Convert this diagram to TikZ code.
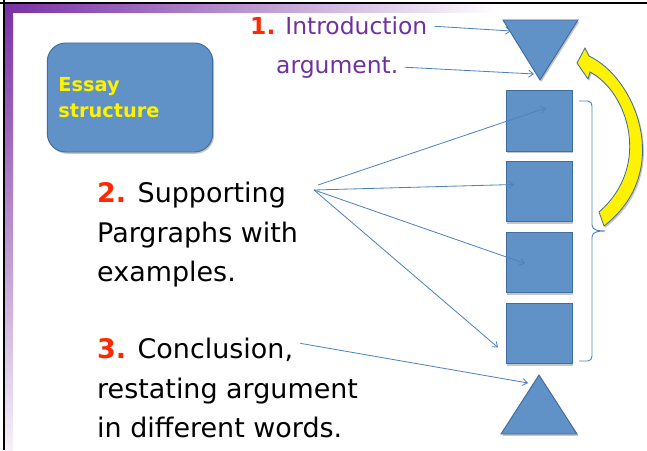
\documentclass[tikz,border=0pt]{standalone}
\usepackage{fontspec}
\setmainfont{DejaVu Sans}
\usetikzlibrary{arrows.meta,shadows,calc}
\definecolor{boxblue}{RGB}{96,146,199}
\definecolor{edgeblue}{RGB}{64,108,158}
\definecolor{lineblue}{RGB}{79,129,189}
\definecolor{numred}{RGB}{255,40,0}
\definecolor{intropurple}{RGB}{112,48,160}
\definecolor{bandpurple}{RGB}{122,48,166}

\tikzset{
  block/.style={draw=edgeblue, fill=boxblue, line width=0.8pt,
    drop shadow={shadow xshift=1.2pt, shadow yshift=-1.5pt, opacity=0.45}},
  pointer/.style={draw=lineblue, line width=0.7pt, -{Straight Barb[length=4pt,width=6pt]}},
  bigtext/.style={font=\fontsize{23}{33}\selectfont, anchor=base west, inner sep=0pt},
  introtext/.style={font=\fontsize{20}{24}\selectfont, text=intropurple, anchor=base west, inner sep=0pt},
}

\begin{document}
\begin{tikzpicture}[x=0.03cm, y=-0.03cm]
    \useasboundingbox (0,0) rectangle (647,450);
    % Slide frame
    \shade[top color=bandpurple, bottom color=bandpurple!7] (5,4) rectangle (13,450);
    \shade[left color=bandpurple, right color=white] (5,4) rectangle (500,13);
    \draw[line width=1.7pt] (0,3) -- (647,3);
    \draw[line width=1.7pt] (4,0) -- (4,450);

    % Title box
    \node[block, rounded corners=0.55cm, minimum height=3.27cm, text width=4.3cm,
          inner xsep=0.33cm, align=left, text=yellow,
          font=\bfseries\fontsize{16.5}{22}\selectfont] (essay) at (130,97.5) {Essay\\structure};

    % Introduction and conclusion triangles
    \draw[block] (503,20) -- (578,20) -- (540,80) -- cycle;
    \draw[block] (539,375) -- (577,434) -- (501,434) -- cycle;

    % Paragraph squares
    \foreach \n/\y in {1/121, 2/191.5, 3/262.5, 4/333.5} {
        \node[block, minimum width=1.98cm, minimum height=1.82cm] (sq\n) at (539,\y) {};
    }

    % Bracket round the paragraphs
    \draw[lineblue, line width=0.8pt] (579,101) -- (588,101) to[out=0,in=90] (592,106)
        -- (592,225) to[out=-90,in=180] (605,231) to[out=180,in=90] (592,237)
        -- (592,356) to[out=-90,in=0] (588,361) -- (579,361);

    % Curved return arrow
    \filldraw[fill=yellow, draw=edgeblue, line width=0.7pt,
              drop shadow={shadow xshift=1.2pt, shadow yshift=-1.5pt, opacity=0.45}]
        (577,63) -- (585,48) -- (589,56)
        .. controls (636,78) and (674,172) .. (604,226)
        -- (599,212)
        .. controls (652,166) and (628,92) .. (590,72)
        -- (588,79) -- cycle;

    % Texts
    \node[introtext] (intro) at (250,35) {\textcolor{numred}{\textbf{1.}} Introduction};
    \node[introtext] (arg) at (276,73) {argument.};
    \node[bigtext] (sup1) at (97,202) {\textcolor{numred}{\textbf{2.}} Supporting};
    \node[bigtext] (sup2) at (97,242) {Pargraphs with};
    \node[bigtext] (sup3) at (97,281) {examples.};
    \node[bigtext] (conc1) at (97,358) {\textcolor{numred}{\textbf{3.}} Conclusion,};
    \node[bigtext] (conc2) at (97,398) {restating argument};
    \node[bigtext] (conc3) at (97,437) {in different words.};

    % Pointers
    \coordinate (fanA) at (318,185);
    \coordinate (fanB) at (314,190);
    \draw[pointer] ($(intro.east)+(7,0)$) -- (511,31);
    \draw[pointer] ($(arg.east)+(6,0)$) -- (534,74);
    \draw[pointer] (fanA) -- ($(sq1.center)+(7,-13)$);
    \draw[pointer] (fanB) -- ($(sq2.center)+(-25,-7)$);
    \draw[pointer] (fanB) -- ($(sq3.center)+(-14,1)$);
    \draw[pointer] (fanB) -- ($(sq4.center)+(-41,14)$);
    \draw[pointer] ($(conc1.east)+(7,-6)$) -- (528,383);
\end{tikzpicture}
\end{document}
